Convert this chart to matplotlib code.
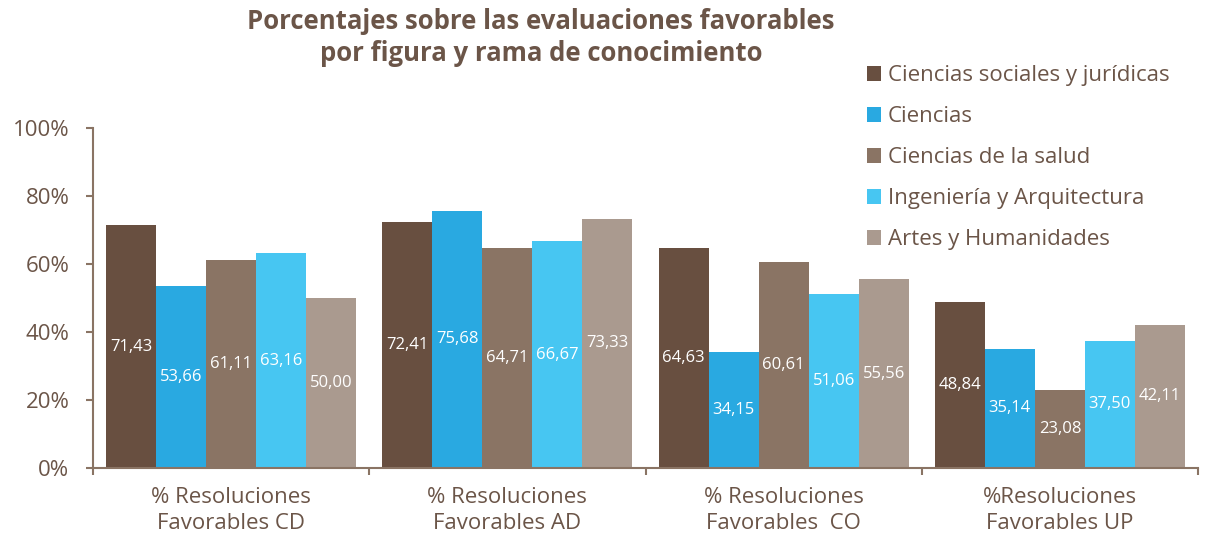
import numpy as np
import matplotlib.pyplot as plt
from matplotlib.ticker import MultipleLocator, FuncFormatter, FixedLocator

plt.rcParams['font.family'] = ['Open Sans', 'DejaVu Sans']

# datos
categorias = ['% Resoluciones\nFavorables CD', '% Resoluciones\nFavorables AD',
              '% Resoluciones\nFavorables  CO', '%Resoluciones\nFavorables UP']
ramas = ['Ciencias sociales y jurídicas', 'Ciencias', 'Ciencias de la salud',
         'Ingeniería y Arquitectura', 'Artes y Humanidades']
sociales = [71.43, 72.41, 64.63, 48.84]
ciencias = [53.66, 75.68, 34.15, 35.14]
salud = [61.11, 64.71, 60.61, 23.08]
ingenieria = [63.16, 66.67, 51.06, 37.50]
artes = [50.00, 73.33, 55.56, 42.11]

colores = ['#684F40', '#29A9E1', '#8A7464', '#47C6F2', '#AA9A8F']
texto = '#6B5548'
eje = '#8A7464'

fig = plt.figure(figsize=(12.1, 5.4), dpi=100)
ax = fig.add_axes([93/1210, 72/540, 1105/1210, 340/540])

x = np.arange(len(categorias))
w = 0.181
series = [sociales, ciencias, salud, ingenieria, artes]
for i, vals in enumerate(series):
    pos = x + (i - 2) * w
    ax.bar(pos, vals, width=w, color=colores[i], label=ramas[i])
    for p, v in zip(pos, vals):
        ax.text(p, v / 2, ('%.2f' % v).replace('.', ','), ha='center', va='center',
                color='white', fontsize=12)

ax.set_xlim(-0.5, len(categorias) - 0.5)
ax.set_ylim(0, 100)
ax.yaxis.set_major_locator(MultipleLocator(20))
ax.yaxis.set_major_formatter(FuncFormatter(lambda v, p: '%d%%' % v))
ax.set_xticks(x)
ax.set_xticklabels(categorias, fontsize=16, color=texto, linespacing=1.3)
ax.xaxis.set_minor_locator(FixedLocator(np.arange(-0.5, len(categorias), 1.0)))
ax.tick_params(axis='x', which='major', length=0, pad=14)
ax.tick_params(axis='x', which='minor', length=5, color=eje, width=1.5)
ax.tick_params(axis='y', labelsize=16, labelcolor=texto, color=eje, length=5, width=1.5, pad=12)

for s in ['top', 'right']:
    ax.spines[s].set_visible(False)
for s in ['left', 'bottom']:
    ax.spines[s].set_color(eje)
    ax.spines[s].set_linewidth(1.5)

fig.text(0.447, 0.985, 'Porcentajes sobre las evaluaciones favorables\npor figura y rama de conocimiento',
         ha='center', va='top', fontsize=18.5, fontweight='bold', color=texto, linespacing=1.25)

leg = fig.legend(loc='upper left', bbox_to_anchor=(858/1210, 478/540 + 0.01), frameon=False,
                 fontsize=16, handlelength=0.65, handleheight=0.65, handletextpad=0.3,
                 labelspacing=0.9, borderaxespad=0)
for t in leg.get_texts():
    t.set_color(texto)

fig.savefig('out.png', dpi=100)
